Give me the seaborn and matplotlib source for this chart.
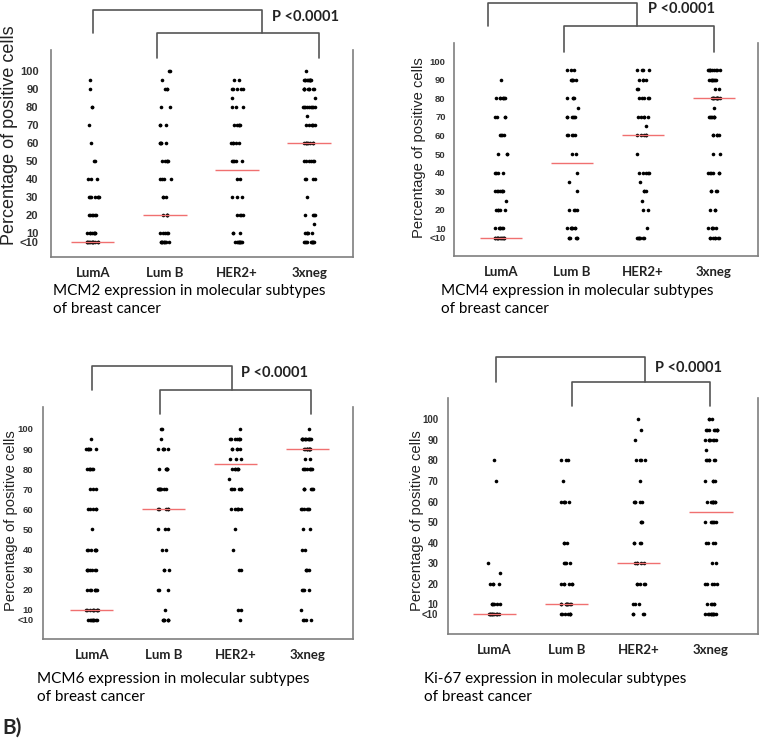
import numpy as np
import pandas as pd
import seaborn as sns
import matplotlib.pyplot as plt

subtypes = ["LumA", "Lum B", "HER2+", "3xneg"]
levels = [5, 10, 15, 20, 25, 30, 35, 40, 50, 60, 65, 70, 75, 80, 85, 90, 95, 100]
ytick_values = [5, 10, 20, 30, 40, 50, 60, 70, 80, 90, 100]
ytick_labels = ["<10", "10", "20", "30", "40", "50", "60", "70", "80", "90", "100"]

# cases per level (same order as `levels`), read from the dot clusters
mcm2_luma = [12, 8, 0, 6, 0, 7, 0, 3, 2, 1, 0, 1, 0, 2, 0, 1, 1, 0]
mcm2_lumb = [9, 5, 0, 4, 0, 3, 0, 4, 5, 5, 0, 3, 0, 2, 0, 3, 1, 2]
mcm2_her2 = [9, 3, 0, 4, 0, 3, 0, 2, 5, 5, 0, 5, 0, 3, 1, 5, 2, 0]
mcm2_3xneg = [10, 5, 1, 4, 0, 1, 0, 4, 6, 8, 0, 6, 1, 9, 1, 9, 10, 1]
mcm2_medians = [5, 20, 45, 60]

mcm4_luma = [12, 6, 0, 5, 1, 7, 0, 4, 3, 4, 0, 4, 0, 7, 0, 1, 0, 0]
mcm4_lumb = [6, 7, 0, 4, 0, 1, 1, 1, 2, 5, 0, 6, 1, 4, 0, 5, 3, 0]
mcm4_her2 = [7, 1, 0, 2, 1, 3, 1, 5, 1, 5, 1, 5, 0, 5, 2, 4, 4, 0]
mcm4_3xneg = [7, 5, 0, 3, 0, 4, 0, 6, 2, 5, 0, 7, 1, 10, 2, 8, 9, 0]
mcm4_medians = [5, 45, 60, 80]

mcm6_luma = [9, 9, 0, 7, 0, 7, 0, 7, 1, 5, 0, 3, 0, 6, 0, 6, 1, 0]
mcm6_lumb = [7, 1, 0, 3, 0, 3, 0, 2, 3, 5, 0, 8, 0, 6, 0, 5, 1, 2]
mcm6_her2 = [1, 2, 0, 0, 0, 2, 0, 1, 1, 6, 0, 6, 1, 6, 3, 5, 7, 1]
mcm6_3xneg = [4, 1, 0, 4, 0, 4, 0, 2, 2, 6, 0, 6, 0, 8, 2, 10, 12, 1]
mcm6_medians = [10, 60, 82.5, 90]

ki67_luma = [12, 6, 0, 4, 1, 1, 0, 0, 0, 0, 0, 1, 0, 1, 0, 0, 0, 0]
ki67_lumb = [7, 9, 0, 6, 0, 4, 0, 3, 0, 5, 0, 1, 0, 3, 0, 0, 0, 0]
ki67_her2 = [4, 3, 0, 5, 0, 5, 0, 4, 3, 5, 0, 1, 0, 4, 0, 1, 1, 1]
ki67_3xneg = [10, 5, 0, 5, 0, 2, 0, 4, 6, 8, 0, 4, 0, 6, 1, 7, 8, 3]
ki67_medians = [5, 10, 30, 55]

p_label = "P <0.0001"
captions = [
    "MCM2 expression in molecular subtypes\nof breast cancer",
    "MCM4 expression in molecular subtypes\nof breast cancer",
    "MCM6 expression in molecular subtypes\nof breast cancer",
    "Ki-67 expression in molecular subtypes\nof breast cancer",
]


def to_frame(groups):
    parts = []
    for name, counts in zip(subtypes, groups):
        parts.append(pd.DataFrame({"subtype": name, "pct": np.repeat(levels, counts)}))
    return pd.concat(parts, ignore_index=True)


def draw_panel(fig, spec, df, medians, caption):
    ax = fig.add_axes(spec["rect"])
    sns.stripplot(data=df, x="subtype", y="pct", order=subtypes, jitter=0.085,
                  color="black", size=2.6, linewidth=0, ax=ax, zorder=2)
    for i, m in enumerate(medians):
        ax.hlines(m, i - 0.3, i + 0.3, color="#f07070", lw=1.0, zorder=3)

    ax.set_xlim(*spec["xlim"])
    ax.set_ylim(*spec["ylim"])
    ax.set_yticks(ytick_values)
    ax.set_yticklabels(ytick_labels, fontfamily="Liberation Sans", fontweight="bold",
                       fontsize=spec["ytick_size"], color="#333333")
    ax.set_xticks(range(len(subtypes)))
    ax.set_xticklabels(subtypes, fontweight="bold", fontsize=9.5, color="#222222")
    ax.set_xlabel("")
    ax.set_ylabel("Percentage of positive cells", fontsize=spec["ylab_size"],
                  fontfamily="Liberation Sans", color="#222222")
    ax.yaxis.set_label_coords(*spec["ylab_xy"])
    ax.tick_params(axis="y", length=0, pad=spec["ypad"])
    ax.tick_params(axis="x", length=4, width=1, color="#7f7f7f", pad=3)

    for side in ["left", "bottom", "right"]:
        ax.spines[side].set_visible(True)
        ax.spines[side].set_color("#7f7f7f")
        ax.spines[side].set_linewidth(1.2)
    ax.spines["top"].set_visible(False)

    # significance brackets
    x0, xj, x1, x3 = spec["bx"]
    ytop, ymid, ylow = spec["by"]
    ax.plot([x0, x0, xj, xj], [ymid, ytop, ytop, ymid], color="#555555", lw=1.2, clip_on=False)
    ax.plot([x1, x1, x3, x3], [ylow, ymid, ymid, ylow], color="#555555", lw=1.2, clip_on=False)
    ax.text(spec["p_xy"][0], spec["p_xy"][1], p_label, fontsize=10.5, fontweight="bold",
            va="center", ha="left", color="#222222")

    fig.text(spec["cap_xy"][0], spec["cap_xy"][1], caption, fontsize=11,
             va="top", ha="left", linespacing=1.4, color="black")
    return ax


def main():
    sns.set_style("white")
    plt.rcParams["font.family"] = ["Lato", "DejaVu Sans"]
    np.random.seed(3)

    W, H = 762, 740
    fig = plt.figure(figsize=(W / 100, H / 100), dpi=100)

    def rect(l, t, r, b):
        return [l / W, 1 - b / H, (r - l) / W, (b - t) / H]

    specs = [
        dict(rect=rect(51, 50, 353, 257), xlim=(-0.58, 3.61), ylim=(-3.3, 111.7),
             bx=(0, 2.35, 0.89, 3.14), by=(133.9, 121.1, 107.2), p_xy=(2.49, 130),
             ylab_xy=(-0.109, 0.59), ylab_size=13, ytick_size=8, ypad=9,
             cap_xy=(53 / W, 1 - 284 / H)),
        dict(rect=rect(454, 43, 758, 256), xlim=(-0.66, 3.62), ylim=(-4.8, 109.7),
             bx=(-0.18, 1.92, 0.89, 3.0), by=(131.2, 118.8, 104.8), p_xy=(2.07, 128),
             ylab_xy=(-0.092, 0.51), ylab_size=10.6, ytick_size=6.8, ypad=6,
             cap_xy=(441 / W, 1 - 284 / H)),
        dict(rect=rect(43, 407, 353, 639), xlim=(-0.68, 3.64), ylim=(-4.5, 110.9),
             bx=(0, 1.95, 0.95, 3.05), by=(131.3, 119.4, 107.5), p_xy=(2.08, 127.9),
             ylab_xy=(-0.081, 0.51), ylab_size=10.6, ytick_size=6.8, ypad=7,
             cap_xy=(37 / W, 1 - 672 / H)),
        dict(rect=rect(448, 398, 758, 634), xlim=(-0.64, 3.65), ylim=(-4.5, 110.4),
             bx=(0.03, 2.09, 1.08, 2.99), by=(130.3, 118.2, 106.5), p_xy=(2.22, 125),
             ylab_xy=(-0.077, 0.48), ylab_size=10.6, ytick_size=7, ypad=7,
             cap_xy=(424 / W, 1 - 672 / H)),
    ]
    frames = [
        to_frame([mcm2_luma, mcm2_lumb, mcm2_her2, mcm2_3xneg]),
        to_frame([mcm4_luma, mcm4_lumb, mcm4_her2, mcm4_3xneg]),
        to_frame([mcm6_luma, mcm6_lumb, mcm6_her2, mcm6_3xneg]),
        to_frame([ki67_luma, ki67_lumb, ki67_her2, ki67_3xneg]),
    ]
    medians = [mcm2_medians, mcm4_medians, mcm6_medians, ki67_medians]

    for spec, df, med, cap in zip(specs, frames, medians, captions):
        draw_panel(fig, spec, df, med, cap)

    fig.text(2 / W, 1 - 728 / H, "B)", fontsize=15, fontweight="bold", va="center", ha="left")
    fig.savefig("out.png", dpi=100)


if __name__ == "__main__":
    main()
